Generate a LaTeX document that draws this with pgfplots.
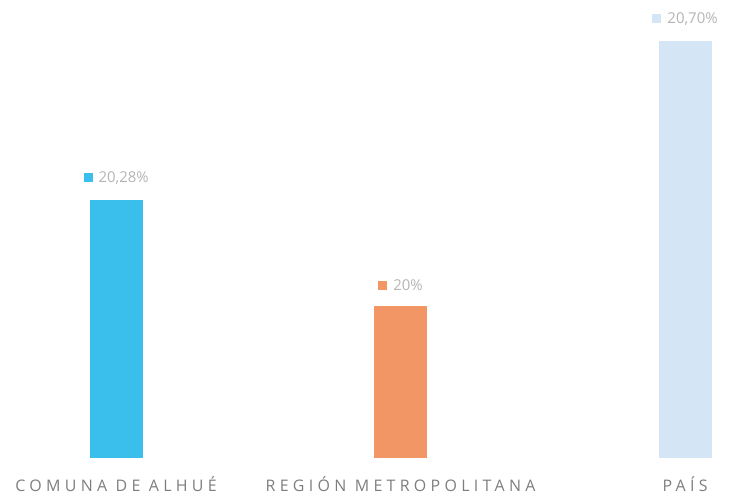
\documentclass[border=0pt]{standalone}
\usepackage{pgfplots}
\pgfplotsset{compat=1.18}
\usepackage{fontspec}
\setmainfont{Open Sans}
\newfontfamily\spacedfont[LetterSpace=27]{Open Sans}
\definecolor{cA}{RGB}{58,190,236}
\definecolor{cB}{RGB}{243,150,102}
\definecolor{cC}{RGB}{212,229,245}
\definecolor{txt}{RGB}{180,180,180}
\definecolor{lab}{RGB}{125,125,125}
\newcommand{\sq}[1]{\textcolor{#1}{\rule{9bp}{9bp}}}
\begin{document}
\begin{tikzpicture}
\useasboundingbox (0,0) rectangle (730bp,495bp);
\begin{axis}[
  at={(0,37bp)}, anchor=south west,
  scale only axis, width=730bp, height=458bp,
  xmin=-0.408, xmax=2.158, ymin=19.598, ymax=20.808,
  hide y axis,
  axis x line*=bottom, x axis line style={draw=none},
  major tick length=0pt,
  xtick={0,1,2},
  xticklabels={COMUNA DE ALHUÉ, REGIÓN METROPOLITANA, PAÍS},
  xticklabel style={font=\spacedfont\fontsize{16}{18}\selectfont, text=lab, yshift=-15bp},
  ybar, bar width=53bp, bar shift=0pt,
  nodes near coords style={font=\fontsize{15}{17}\selectfont, text=txt, yshift=12bp},
  clip=false,
]
\addplot[draw=none, fill=cA, nodes near coords={\sq{cA}\hspace{6bp}20,28\%}] coordinates {(0,20.28)};
\addplot[draw=none, fill=cB, nodes near coords={\sq{cB}\hspace{6bp}20\%}] coordinates {(1,20.00)};
\addplot[draw=none, fill=cC, nodes near coords={\sq{cC}\hspace{6bp}20,70\%}] coordinates {(2,20.70)};
\end{axis}
\end{tikzpicture}
\end{document}
